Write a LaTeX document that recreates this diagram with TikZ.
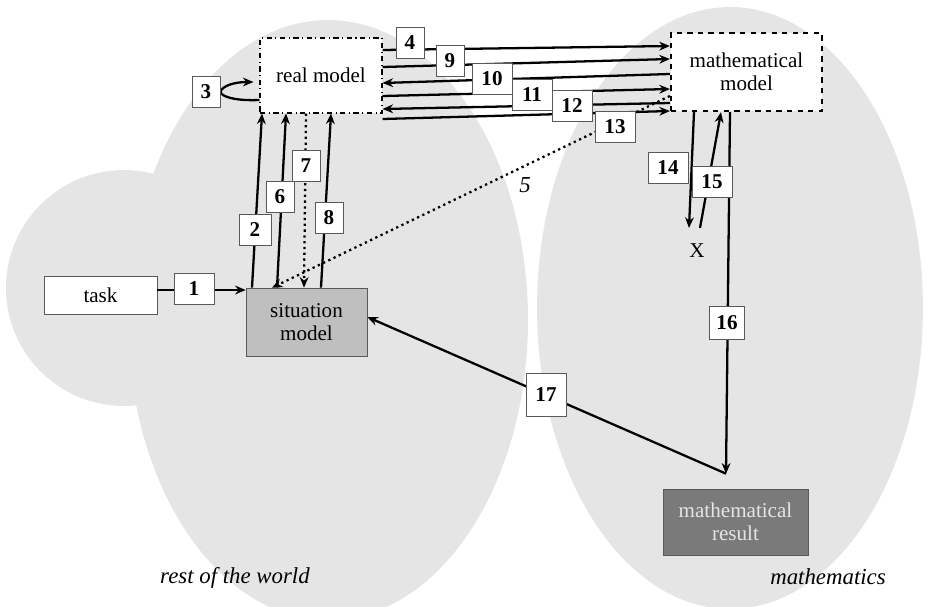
\documentclass[tikz,border=0pt]{standalone}
\usepackage{fontspec}
\setmainfont{Liberation Serif}
\usetikzlibrary{arrows.meta,calc}
\pgfdeclarelayer{foreground}
\pgfsetlayers{main,foreground}
\definecolor{world}{rgb}{0.9,0.9,0.9}
\definecolor{sitfill}{rgb}{0.75,0.75,0.75}
\definecolor{resfill}{rgb}{0.48,0.48,0.48}
\definecolor{edge}{rgb}{0.35,0.35,0.35}

\begin{document}
\begin{tikzpicture}[x=0.02cm,y=-0.02cm,
    every node/.style={font=\fontsize{12}{13}\selectfont},
    model/.style={draw,fill=white,align=center,inner sep=0pt},
    numbox/.style={draw=edge,fill=white,inner sep=0pt,minimum width=0.8cm,minimum height=0.62cm,font=\fontsize{12}{13}\selectfont\bfseries},
    thinbox/.style={numbox,minimum width=0.56cm},
    flow/.style={line width=1.3pt,-{Stealth[length=6pt,width=5pt]}},
    guess/.style={line width=1.3pt,dotted,-{Stealth[length=6pt,width=5pt]}},
    region/.style={font=\fontsize{13}{14}\selectfont\itshape}]
      \useasboundingbox (0,0) rectangle (927,606);
      \clip (0,0) rectangle (927,606);
      % Rest of the world
      \fill[world] (124,288) circle [radius=2.36cm];
      \fill[world] (328,320) ellipse [x radius=4cm, y radius=6cm];
      % Mathematics
      \fill[world] (730,308) ellipse [x radius=3.86cm, y radius=6.02cm];

      % Models
      \node[model,line width=0.6pt,dash dot,minimum width=2.44cm,minimum height=1.5cm] (real) at (321,75.5) {real model};
      \node[model,line width=1.3pt,dashed,minimum width=3.02cm,minimum height=1.56cm] (mathm) at (746.5,72) {mathematical\\model};
      \node[model,draw=edge,minimum width=2.26cm,minimum height=0.76cm] (task) at (100.5,295) {task};
      \node[model,draw=edge,fill=sitfill,minimum width=2.42cm,minimum height=1.36cm] (sit) at (306.5,322) {situation\\model};
      \node[model,draw=edge,fill=resfill,text=white!90!black,minimum width=2.9cm,minimum height=1.32cm] (result) at (735.5,522) {mathematical\\result};
      \node (x) at (697,251) {X};
      \node[region] (five) at (525,185) {5};
      \node[region] (world) at (235,578) {rest of the world};
      \node[region] (maths) at (828,577) {mathematics};

      % Step labels
      \begin{pgfonlayer}{foreground}
      \node[numbox] (n1) at (194,289) {1};
      \node[thinbox,minimum width=0.64cm] (n2) at (255,230) {2};
      \node[thinbox] (n3) at (206,92) {3};
      \node[thinbox] (n4) at (410,43) {4};
      \node[thinbox] (n6) at (280,197) {6};
      \node[thinbox] (n7) at (306,166) {7};
      \node[thinbox] (n8) at (329,218) {8};
      \node[thinbox] (n9) at (450,61) {9};
      \node[numbox] (n10) at (492,79) {10};
      \node[numbox] (n11) at (532,95) {11};
      \node[numbox] (n12) at (572,106) {12};
      \node[numbox] (n13) at (615,127) {13};
      \node[numbox] (n14) at (668,168) {14};
      \node[numbox] (n15) at (712,182) {15};
      \node[numbox,minimum width=0.7cm,minimum height=0.66cm] (n16) at (727,323) {16};
      \node[numbox,minimum height=0.86cm] (n17) at (546,395) {17};
      \end{pgfonlayer}

      % Task to situation model
      \draw[flow] (task.east |- 0,290) -- (sit.west |- 0,290);
      % Between situation model and real model
      \draw[flow] (sit.north -| 252,0) -- (real.south -| 262,0);
      \draw[flow] (sit.north -| 277,0) -- (real.south -| 286,0);
      \draw[guess] (real.south -| 306,0) -- (sit.north -| 304,0);
      \draw[flow] (sit.north -| 321,0) -- (real.south -| 331,0);
      % Loop at real model
      \draw[flow] (real.west |- 0,100) .. controls (236,101) and (222,97) .. (n3.east)
        .. controls (222,86) and (234,82) .. ([xshift=-0.12cm]real.west |- 0,82);
      % Between real model and mathematical model
      \draw[flow] (real.east |- 0,50) -- (mathm.west |- 0,46);
      \draw[flow] (real.east |- 0,67) -- (mathm.west |- 0,59);
      \draw[flow] (mathm.west |- 0,74) -- (real.east |- 0,83);
      \draw[flow] (real.east |- 0,96) -- (mathm.west |- 0,89);
      \draw[flow] (mathm.west |- 0,103) -- (real.east |- 0,109);
      \draw[flow] (real.east |- 0,119) -- (mathm.west |- 0,111);
      % Mathematical model back to situation model
      \draw[guess] (mathm.west |- 0,96) -- (sit.north -| 272,0);
      % Inside mathematics
      \draw[flow] (mathm.south -| 694,0) -- ([yshift=0.2cm]x.north -| 689,0);
      \draw[flow] ([yshift=0.2cm]x.north -| 700,0) -- (mathm.south -| 721,0);
      \coordinate (turn) at ([yshift=0.3cm]result.north -| 726,0);
      \draw[flow] (mathm.south -| 730,0) -- (turn);
      % Mathematical result to situation model
      \draw[flow] (turn) -- (sit.east |- 0,317);

    \end{tikzpicture}
\end{document}
